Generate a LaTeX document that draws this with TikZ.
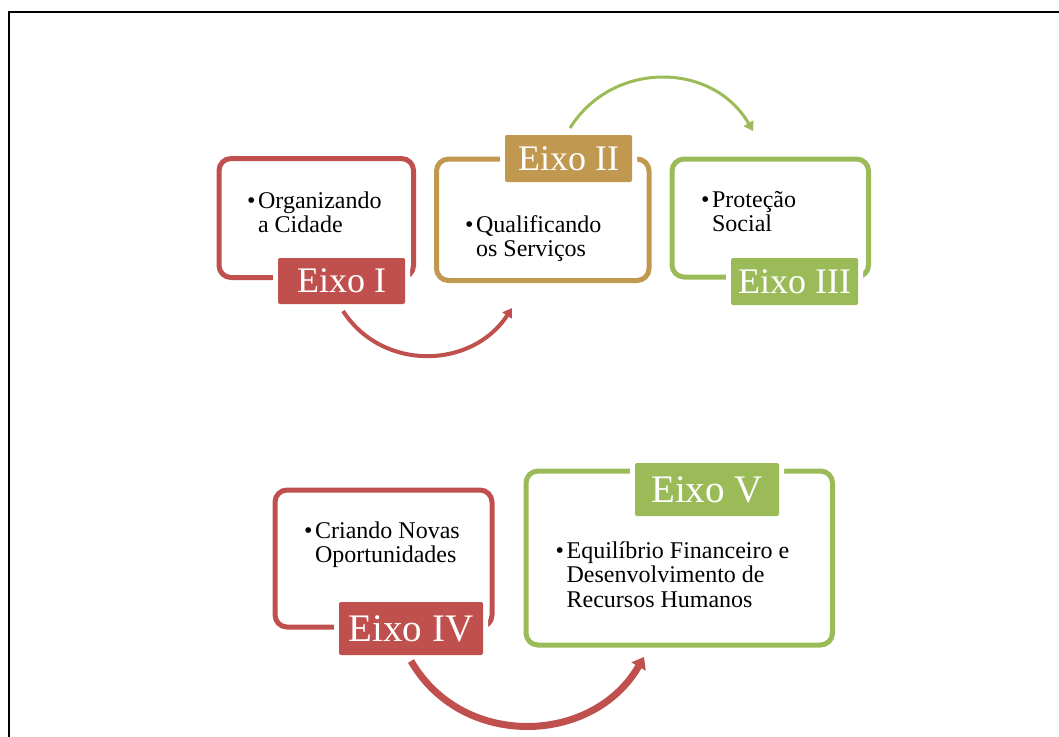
\documentclass[tikz,border=0pt]{standalone}
\usepackage{fontspec}
\setmainfont{Liberation Serif}
\usetikzlibrary{arrows.meta}
\definecolor{cred}{HTML}{C0504D}
\definecolor{cgold}{HTML}{C0984F}
\definecolor{cgreen}{HTML}{9BBB59}
\newcommand{\bitem}[2]{\begin{tabular}[t]{@{}l@{\hspace{2.5pt}}l@{}}\textbullet & #1\\ #2\end{tabular}}
\tikzset{
  frame/.style={line width=2pt, draw=black},
  axisbox/.style={draw=#1, line width=5pt, rounded corners=12pt, inner sep=0pt, fill=none},
  axislabel/.style={fill=#1, text=white, inner sep=0pt, rounded corners=2pt,
     preaction={draw=white, line width=10pt}, font=\fontsize{36}{36}\selectfont},
  biglabel/.style={font=\fontsize{39}{39}\selectfont},
  bodytext/.style={anchor=base west, inner sep=0pt, font=\fontsize{24}{24.5}\selectfont},
  arcarrow/.style={draw=#1, -{Triangle[length=9pt,width=11pt]}},
}
\begin{document}
\begin{tikzpicture}[x=1pt,y=1pt]
\useasboundingbox (0,0) rectangle (1059,-736);
\clip (0,0) rectangle (1059,-736);
\draw[frame] (9.2,-11.8) rectangle (1120,-800);

% boxes
\node[axisbox=cred, minimum width=194.5, minimum height=119] (b1) at (316.25,-218) {};
\node[axisbox=cgold, minimum width=212.5, minimum height=121.5] (b2) at (542.75,-219.75) {};
\node[axisbox=cgreen, minimum width=196.5, minimum height=118] (b3) at (770.25,-218) {};
\node[axisbox=cred, minimum width=217, minimum height=137] (b4) at (383.5,-558.5) {};
\node[axisbox=cgreen, minimum width=306.5, minimum height=174] (b5) at (679.25,-558) {};

% labels
\node[axislabel=cred, minimum width=127, minimum height=46] (l1) at (341.5,-281) {Eixo I};
\node[axislabel=cgold, minimum width=127, minimum height=47] (l2) at (568.5,-158.5) {Eixo II};
\node[axislabel=cgreen, minimum width=127, minimum height=47] (l3) at (794.5,-281.5) {Eixo III};
\node[axislabel=cred, biglabel, minimum width=144, minimum height=53] (l4) at (411,-628.5) {Eixo IV};
\node[axislabel=cgreen, biglabel, minimum width=144, minimum height=53] (l5) at (707,-489.5) {Eixo V};

% texts
\node[bodytext] (t1) at (247,-208) {\bitem{Organizando}{& a Cidade}};
\node[bodytext] (t2) at (465,-232) {\bitem{Qualificando}{& os Serviços}};
\node[bodytext] (t3) at (701,-207) {\bitem{Proteção}{& Social}};
\node[bodytext] (t4) at (304,-538) {\bitem{Criando Novas}{& Oportunidades}};
\node[bodytext] (t5) at (555.5,-558.3) {\bitem{Equilíbrio Financeiro e}{& Desenvolvimento de\\ & Recursos Humanos}};

% arc connectors
\coordinate (a1s) at (343,-311);
\coordinate (a1e) at (512,-308);
\coordinate (a2s) at (570,-128);
\coordinate (a2e) at (753,-131);
\coordinate (a3s) at (411,-661);
\coordinate (a3e) at (644,-657);
\draw[arcarrow=cred, line width=4pt] (a1s) to[out=-57, in=-123, looseness=1.1] (a1e);
\draw[arcarrow=cgreen, line width=3pt] (a2s) to[out=58, in=120, looseness=1.12] (a2e);
\draw[draw=cred, line width=7pt, -{Triangle[length=11pt,width=16pt]}] (a3s) to[out=-60, in=-120, looseness=1.12] (a3e);
\end{tikzpicture}
\end{document}
